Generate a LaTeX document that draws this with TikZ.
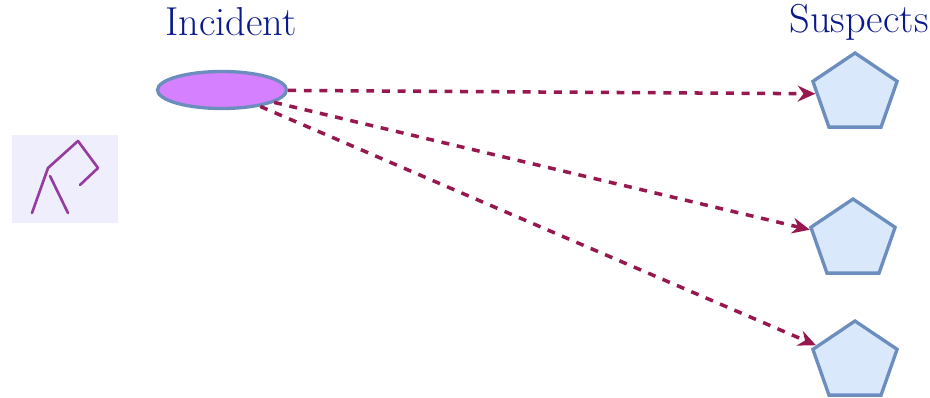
\documentclass[tikz,border=0pt]{standalone}
\usepackage{tikz}
\usetikzlibrary{arrows.meta,positioning,shapes.geometric}

\definecolor{titleblue}{RGB}{10,25,140}
\definecolor{edgeblue}{RGB}{108,142,191}
\definecolor{fillblue}{RGB}{218,232,252}
\definecolor{violetfill}{RGB}{213,128,255}
\definecolor{linkred}{RGB}{150,24,78}
\definecolor{iconbg}{RGB}{238,238,252}
\definecolor{iconline}{RGB}{150,60,160}

\tikzset{
    title/.style={titleblue, font=\fontsize{23}{27}\selectfont},
    incident/.style={ellipse, draw=edgeblue, fill=violetfill, line width=1.9pt,
        minimum width=2.58cm, minimum height=0.74cm, inner sep=0pt},
    suspect/.style={regular polygon, regular polygon sides=5, draw=edgeblue,
        fill=fillblue, line width=1.9pt, minimum size=1.64cm, inner sep=0pt,
        xscale=1.08, transform shape},
    link/.style={-{Stealth[length=10pt,width=9pt]}, linkred, line width=2pt,
        dash pattern=on 4.5pt off 4.4pt}
}

\begin{document}
\begin{tikzpicture}[x=0.02cm, y=-0.02cm]
    \useasboundingbox (0,0) rectangle (930,398);

    % Titles
    \node[title] (lblinc) at (231, 22) {Incident};
    \node[title] (lblsus) at (859, 22) {Suspects};

    % Incident and suspects
    \node[incident] (inc) at (222, 90) {};
    \node[suspect] (s1) at (855, 94) {};
    \node[suspect] (s2) at (853, 240) {};
    \node[suspect] (s3) at (855, 362) {};

    % Links
    \draw[link] (inc) -- (s1);
    \draw[link] (inc) -- (s2);
    \draw[link] (inc) -- (s3);

    % Icon on the left
    \fill[iconbg] (12, 135) rectangle (118, 223);
    \draw[iconline, line width=1.5pt, line cap=round, line join=round]
        (32, 213) -- (48, 168) -- (78, 141) -- (98, 168) -- (80, 185);
    \draw[iconline, line width=1.5pt, line cap=round]
        (50, 176) -- (68, 213);
\end{tikzpicture}
\end{document}
